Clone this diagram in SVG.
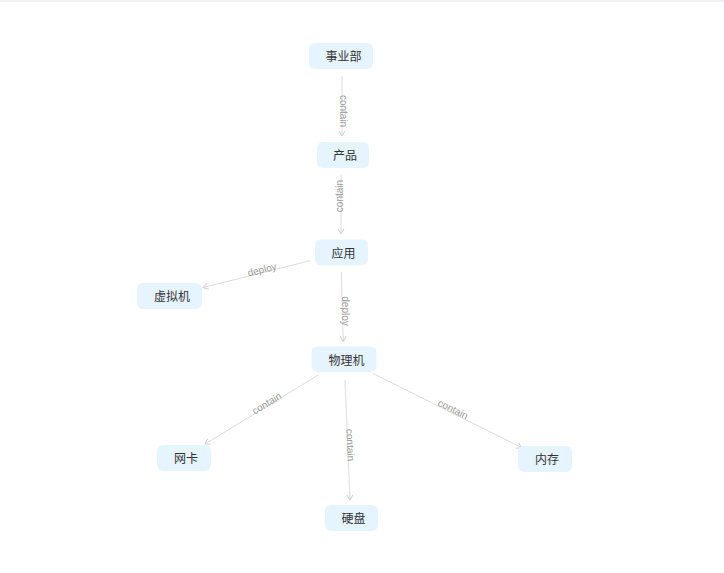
<svg xmlns="http://www.w3.org/2000/svg" width="724" height="573" viewBox="0 0 724 573">
<style>
.node rect{fill:#e6f4ff;}
.node text{font-family:"Liberation Sans","Noto Sans CJK SC",sans-serif;font-size:12px;fill:#333;text-anchor:middle;}
.edge line{stroke:#dcdcdc;stroke-width:1;fill:none;}
.edge path{stroke:#cfcfcf;stroke-width:1;fill:none;}
.lbl{font-family:"Liberation Sans","Noto Sans CJK SC",sans-serif;font-size:10px;fill:#9a9a9a;text-anchor:middle;}
</style>
<defs>
<marker id="arr" viewBox="-6 -4 7 8" refX="0" refY="0" markerWidth="7" markerHeight="8" markerUnits="userSpaceOnUse" orient="auto">
<path d="M-5,-3 L0,0 L-5,3" stroke="#cfcfcf" stroke-width="1" fill="none"/>
</marker>
</defs>
<rect x="0" y="0" width="724" height="573" fill="#ffffff"/>
<rect x="0" y="0" width="724" height="2" fill="#f0f0f4"/>
<g id="connectors" class="edge">
<line x1="342" y1="76" x2="342" y2="136" marker-end="url(#arr)"/>
<line x1="341" y1="175" x2="341" y2="234" marker-end="url(#arr)"/>
<line x1="310" y1="260.7" x2="203" y2="287.5" marker-end="url(#arr)"/>
<line x1="341.3" y1="271.7" x2="343.3" y2="341.5" marker-end="url(#arr)"/>
<line x1="318.3" y1="375" x2="205" y2="444" marker-end="url(#arr)"/>
<line x1="345" y1="380" x2="350" y2="500" marker-end="url(#arr)"/>
<line x1="372.7" y1="373.3" x2="521.7" y2="447.7" marker-end="url(#arr)"/>
<text class="lbl" transform="translate(343.5,111) rotate(90)" dy="3.5">contain</text>
<text class="lbl" transform="translate(339.5,196) rotate(-90)" dy="3.5">contain</text>
<text class="lbl" transform="translate(262,269.5) rotate(-14.1)" dy="3.5">deploy</text>
<text class="lbl" transform="translate(345,311) rotate(90)" dy="3.5">deploy</text>
<text class="lbl" transform="translate(266.7,403.3) rotate(-31.3)" dy="3.5">contain</text>
<text class="lbl" transform="translate(350.5,445) rotate(87.6)" dy="3.5">contain</text>
<text class="lbl" transform="translate(453,409.2) rotate(26.5)" dy="3.5">contain</text>
</g>
<g id="n-shiyebu" class="node"><rect x="309" y="43" width="64" height="26" rx="6"/><text x="343.5" y="61">事业部</text></g>
<g id="n-chanpin" class="node"><rect x="317" y="142" width="52" height="26" rx="6"/><text x="345" y="160">产品</text></g>
<g id="n-yingyong" class="node"><rect x="315" y="239.5" width="53" height="26" rx="6"/><text x="343.5" y="257.5">应用</text></g>
<g id="n-xuniji" class="node"><rect x="137" y="283" width="65" height="26" rx="6"/><text x="172" y="301">虚拟机</text></g>
<g id="n-wuliji" class="node"><rect x="311.5" y="346.5" width="65" height="25.5" rx="6"/><text x="346.5" y="364.5">物理机</text></g>
<g id="n-wangka" class="node"><rect x="157" y="445" width="54" height="26" rx="6"/><text x="186" y="463">网卡</text></g>
<g id="n-yingpan" class="node"><rect x="325" y="505" width="53" height="26" rx="6"/><text x="353.5" y="523">硬盘</text></g>
<g id="n-neicun" class="node"><rect x="518" y="446" width="54" height="26" rx="6"/><text x="547" y="464">内存</text></g>
</svg>
